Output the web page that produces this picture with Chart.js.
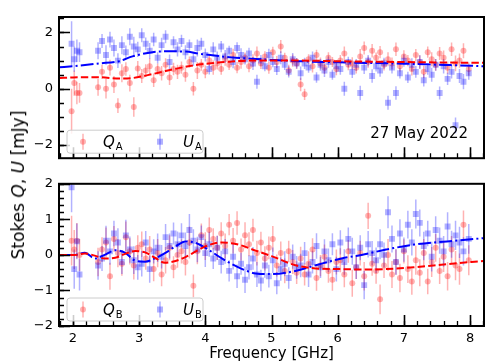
<!DOCTYPE html>
<html>
<head>
<meta charset="utf-8">
<script src="https://cdn.jsdelivr.net/npm/chart.js@4.4.0/dist/chart.umd.min.js"></script>
<style>
body { margin: 0; background: #fff; }
#wrap { position: relative; width: 498px; height: 363px; overflow: hidden; font-family: "DejaVu Sans"; }
#top { position: absolute; left: 0; top: 0; }
#bot { position: absolute; left: 0; top: 170px; }
#ylab { position: absolute; left: 18px; top: 185px; transform: translate(-50%, -50%) rotate(-90deg); white-space: nowrap; font-size: 17px; color: #000; }
</style>
</head>
<body>
<div id="wrap">
  <canvas id="top" width="498" height="172"></canvas>
  <canvas id="bot" width="498" height="193"></canvas>
  <div id="ylab">Stokes <i>Q</i>, <i>U</i> [mJy]</div>
</div>
<script>
// frequency channels [GHz]
var freq = [1.98, 2.02, 2.06, 2.10,
  2.38, 2.44, 2.50, 2.56, 2.62, 2.68, 2.74, 2.80, 2.86, 2.92, 2.98,
  3.04, 3.10, 3.16, 3.22, 3.28, 3.34, 3.40, 3.46, 3.52, 3.58,
  3.64, 3.70, 3.76, 3.82, 3.88, 3.94, 4.00, 4.06, 4.12, 4.18,
  4.24, 4.30, 4.36, 4.42, 4.48, 4.54, 4.60, 4.66, 4.72, 4.78,
  4.84, 4.90, 4.96, 5.02, 5.08, 5.14, 5.20, 5.26, 5.32, 5.38,
  5.44, 5.50, 5.56, 5.62, 5.68, 5.74, 5.80, 5.86, 5.92, 5.98,
  6.04, 6.10, 6.16, 6.22, 6.28, 6.34, 6.40, 6.46, 6.52, 6.58,
  6.64, 6.70, 6.76, 6.82, 6.88, 6.94, 7.00, 7.06, 7.12, 7.18,
  7.24, 7.30, 7.36, 7.42, 7.48, 7.54, 7.60, 7.66, 7.72, 7.78,
  7.84, 7.90, 7.98];

// panel A (27 May 2022)
var qA = [-0.80, 0.20, -0.15, -0.15,
  0.05, 0.60, 0.00, 0.75, 0.15, -0.60, 0.55, 0.70, 0.20, -0.65, 0.72,
  0.45, 0.65, 0.80, 0.30, 0.70, 0.55, 0.85, 0.40, 0.70, 0.60,
  0.75, 0.50, 0.95, 0.00, 0.65, 0.85, 0.60, 1.00, 0.75, 0.90,
  0.70, 1.05, 0.85, 1.20, 0.75, 0.95, 1.10, 0.80, 1.00, 1.25,
  0.90, 1.15, 0.75, 1.30, 0.95, 1.50, 1.10, 0.65, 1.00, 0.90,
  0.15, -0.20, 1.05, 0.80, 1.20, 0.90, 0.75, 1.10, 0.95, 0.70,
  1.00, 1.25, 0.85, 0.90, 0.75, 1.15, 1.45, 0.95, 1.35, 1.10,
  1.30, 0.85, 1.05, 0.90, 1.40, 0.80, 1.15, 1.00, 0.70, 1.20,
  0.95, 0.60, 1.30, 1.05, 0.85, 1.25, 1.10, 0.75, 1.40, 0.90,
  1.00, 1.35, 0.70];
var uA = [1.60, 1.05, 1.35, 1.30,
  1.35, 1.70, 1.20, 1.75, 1.45, 1.00, 1.55, 1.30, 1.85, 1.50, 1.40,
  1.90, 1.60, 1.35, 1.75, 1.10, 1.55, 1.85, 0.95, 1.65, 1.40,
  1.70, 1.30, 1.55, 1.05, 1.45, 1.60, 1.20, 0.70, 1.40, 1.10,
  1.50, 1.15, 1.35, 0.95, 1.45, 1.20, 1.05, 1.25, 0.90, 0.25,
  1.00, 0.80, 1.20, 0.95, 0.70, 1.10, 0.85, 0.60, 1.05, 0.90,
  0.55, 0.90, 0.75, 1.10, 0.40, 0.85, 0.65, 0.95, 0.50, 0.80,
  0.70, 0.00, 0.95, 0.60, 0.85, -0.15, 0.75, 1.00, 0.45, 0.80,
  0.65, 0.90, -0.50, 0.75, -0.15, 0.55, 1.00, 0.40, 0.85, 0.60,
  0.95, 0.30, 0.70, 0.50, 0.85, -0.15, 0.80, 0.35, 0.60, -1.30,
  0.45, 0.25, 0.55];
var errA = [0.80, 0.45, 0.40, 0.35,
  0.30, 0.25, 0.35, 0.28, 0.30, 0.26, 0.32, 0.24, 0.30, 0.35, 0.27,
  0.25, 0.22, 0.28, 0.24, 0.20, 0.26, 0.23, 0.27, 0.22, 0.25,
  0.22, 0.25, 0.20, 0.24, 0.30, 0.21, 0.23, 0.19, 0.25, 0.22,
  0.20, 0.23, 0.18, 0.22, 0.20, 0.24, 0.19, 0.21, 0.23, 0.25,
  0.20, 0.18, 0.22, 0.19, 0.21, 0.23, 0.18, 0.20, 0.22, 0.19,
  0.24, 0.20, 0.18, 0.22, 0.19, 0.21, 0.23, 0.20, 0.18, 0.22,
  0.20, 0.25, 0.19, 0.22, 0.21, 0.26, 0.23, 0.20, 0.24, 0.19,
  0.22, 0.20, 0.25, 0.21, 0.24, 0.19, 0.22, 0.20, 0.23, 0.21,
  0.24, 0.22, 0.20, 0.25, 0.21, 0.23, 0.26, 0.22, 0.24, 0.28,
  0.25, 0.27, 0.23];

// panel B
var qB = [0.40, 0.15, 0.40, 0.00,
  -0.20, 0.15, 0.35, -0.60, 0.45, 0.05, -0.25, 0.50, 0.10, -0.30, 0.20,
  0.30, -0.10, 0.15, -0.40, 0.05, -0.55, -0.15, 0.20, -0.35, 0.00,
  0.10, -0.20, 0.35, -0.87, 0.10, 0.55, 0.25, 0.70, 0.45, 0.20,
  0.60, 0.25, 0.85, 0.40, 0.90, 0.15, 0.55, 0.30, 0.70, 0.05,
  0.35, -0.10, 0.20, 0.45, -0.30, 0.05, -0.45, 0.10, -0.20, -0.50,
  -0.10, -0.55, -0.25, 0.15, -0.65, -0.30, -0.05, -0.45, -0.70, -0.20,
  -0.15, -0.55, 0.10, -0.80, -0.35, 0.05, -0.60, 1.10, -0.25, -0.45,
  -1.25, -0.30, 0.00, -0.55, -0.20, -0.65, 0.10, -0.40, -0.75, -0.15,
  -0.50, 0.05, -0.75, -0.20, 0.20, -0.45, -0.05, -0.60, 0.15, -0.30,
  -0.40, 0.85, -0.15];
var uB = [1.90, -0.40, 0.38, -0.55,
  -0.30, -0.10, 0.40, 0.10, 0.60, 0.35, -0.20, 0.55, 0.15, -0.15, -0.35,
  -0.25, 0.35, -0.40, 0.10, 0.20, -0.05, 0.50, 0.25, 0.60, 0.30,
  0.55, 0.25, 0.70, 0.40, 0.15, 0.50, 0.05, 0.30, -0.10, 0.20,
  -0.20, 0.10, -0.45, -0.05, -0.60, -0.25, -0.70, -0.35, -0.10, -0.55,
  -0.72, -0.30, -0.60, -0.15, -0.80, -0.40, -0.25, -0.65, -0.05, -0.35,
  -0.30, 0.05, -0.55, -0.20, 0.25, -0.35, 0.10, -0.15, 0.30, -0.40,
  0.35, -0.20, 0.45, 0.10, -0.35, 0.20, -0.85, 0.30, 0.05, -0.15,
  0.30, 0.00, 1.20, 0.45, -0.20, 0.60, 0.15, 0.85, 0.35, 1.15,
  0.90, 0.25, 0.60, -0.05, 0.70, 0.40, 0.10, 0.80, 0.30, 0.55,
  0.35, 0.10, 0.45];
var errB = [0.70, 0.55, 0.50, 0.45,
  0.40, 0.35, 0.42, 0.38, 0.36, 0.40, 0.34, 0.44, 0.37, 0.39, 0.35,
  0.36, 0.32, 0.38, 0.34, 0.40, 0.33, 0.37, 0.35, 0.31, 0.36,
  0.34, 0.38, 0.45, 0.32, 0.36, 0.33, 0.39, 0.35, 0.30, 0.34,
  0.32, 0.35, 0.30, 0.36, 0.33, 0.31, 0.37, 0.34, 0.32, 0.35,
  0.30, 0.34, 0.32, 0.36, 0.31, 0.33, 0.35, 0.30, 0.34, 0.32,
  0.33, 0.31, 0.35, 0.32, 0.36, 0.30, 0.34, 0.33, 0.31, 0.35,
  0.34, 0.36, 0.32, 0.38, 0.33, 0.35, 0.40, 0.37, 0.34, 0.36,
  0.42, 0.35, 0.45, 0.38, 0.36, 0.40, 0.34, 0.39, 0.37, 0.41,
  0.38, 0.40, 0.36, 0.42, 0.39, 0.37, 0.43, 0.40, 0.38, 0.41,
  0.44, 0.40, 0.42];

// model curves
var modelFreqA = [1.8, 2.0, 2.4, 2.7, 2.9, 3.2, 3.4, 3.7, 3.9, 4.2, 4.4, 4.7, 5.4, 6.2, 7.0, 7.7, 8.2];
var modelQA = [0.38, 0.40, 0.41, 0.36, 0.38, 0.52, 0.63, 0.78, 0.86, 0.93, 0.97, 1.00, 1.00, 0.97, 0.95, 0.93, 0.92];
var modelUA = [0.76, 0.80, 0.90, 0.98, 1.15, 1.30, 1.33, 1.32, 1.25, 1.16, 1.11, 1.07, 0.98, 0.93, 0.89, 0.84, 0.80];
var modelFreqB = [1.8, 2.03, 2.18, 2.33, 2.48, 2.64, 2.79, 2.94, 3.09, 3.24, 3.39, 3.55, 3.70, 3.85, 4.0,
  4.25, 4.5, 4.76, 5.01, 5.36, 5.67, 6.06, 6.36, 6.73, 7.15, 7.65, 8.2];
var modelQB = [0.0, 0.0, 0.04, -0.02, -0.10, -0.08, 0.03, 0.11, 0.07, -0.08, -0.22, -0.17, -0.06, 0.09, 0.24,
  0.35, 0.29, 0.12, -0.04, -0.29, -0.38, -0.40, -0.41, -0.40, -0.35, -0.26, -0.17];
var modelUB = [0.0, 0.0, 0.06, -0.10, 0.0, 0.13, 0.06, -0.16, -0.19, -0.10, 0.05, 0.24, 0.38, 0.34, 0.20,
  -0.10, -0.35, -0.52, -0.54, -0.45, -0.29, -0.10, 0.00, 0.15, 0.29, 0.38, 0.47];

var xTicks = [2, 3, 4, 5, 6, 7, 8];
var yTicksA = [-2, 0, 2];
var yTicksB = [-2, -1, 0, 1, 2];

var RED = 'rgba(255,0,0,0.3)';
var BLUE = 'rgba(0,0,255,0.3)';

Chart.defaults.font.family = '"DejaVu Sans"';
Chart.defaults.color = '#000';

function pts(xs, ys) {
  return xs.map(function (x, i) { return { x: x, y: ys[i] }; });
}

function panelData(q, u, err, mx, mq, mu) {
  return {
    datasets: [
      { data: pts(mx, mq), showLine: true, borderColor: '#ff0000', borderWidth: 2, borderDash: [7.4, 3.2],
        pointRadius: 0, cubicInterpolationMode: 'monotone', order: 0 },
      { data: pts(mx, mu), showLine: true, borderColor: '#0000ff', borderWidth: 2, borderDash: [12.8, 3.2, 2, 3.2],
        pointRadius: 0, cubicInterpolationMode: 'monotone', order: 0 },
      { data: pts(freq, u), errors: err, pointStyle: 'rect', pointRadius: 4.2, backgroundColor: BLUE,
        pointBorderWidth: 0, order: 1 },
      { data: pts(freq, q), errors: err, pointStyle: 'circle', pointRadius: 3, backgroundColor: RED,
        pointBorderWidth: 0, order: 2 }
    ]
  };
}

// vertical error bars under the markers
var errorBars = {
  id: 'errorBars',
  beforeDatasetsDraw: function (chart) {
    var ctx = chart.ctx, a = chart.chartArea, ys = chart.scales.y;
    ctx.save();
    ctx.beginPath();
    ctx.rect(a.left, a.top, a.right - a.left, a.bottom - a.top);
    ctx.clip();
    ctx.lineWidth = 1.5;
    for (var i = chart.data.datasets.length - 1; i >= 0; i--) {
      var ds = chart.data.datasets[i];
      if (!ds.errors) continue;
      var meta = chart.getDatasetMeta(i);
      ctx.strokeStyle = ds.backgroundColor;
      meta.data.forEach(function (pt, j) {
        var v = ds.data[j].y, e = ds.errors[j];
        ctx.beginPath();
        ctx.moveTo(pt.x, ys.getPixelForValue(v + e));
        ctx.lineTo(pt.x, ys.getPixelForValue(v - e));
        ctx.stroke();
      });
    }
    ctx.restore();
  }
};

// box frame plus inward major/minor ticks (matplotlib look)
var frame = {
  id: 'frame',
  afterDraw: function (chart, args, opts) {
    var ctx = chart.ctx, a = chart.chartArea, xs = chart.scales.x, ys = chart.scales.y;
    function minors(scale, step) {
      var out = [];
      for (var k = Math.ceil(scale.min / step - 1e-6); k * step <= scale.max + 1e-6; k++) out.push(k * step);
      return out;
    }
    ctx.save();
    ctx.strokeStyle = '#000';
    ctx.lineWidth = 1.3;
    ctx.beginPath();
    minors(xs, opts.xMinor).forEach(function (v) {
      var px = Math.round(xs.getPixelForValue(v)) + 0.5;
      ctx.moveTo(px, a.bottom); ctx.lineTo(px, a.bottom - 5);
    });
    minors(ys, opts.yMinor).forEach(function (v) {
      var py = Math.round(ys.getPixelForValue(v)) + 0.5;
      ctx.moveTo(a.left, py); ctx.lineTo(a.left + 5, py);
    });
    ctx.stroke();
    ctx.lineWidth = 1.6;
    ctx.beginPath();
    opts.xMajor.forEach(function (v) {
      var px = Math.round(xs.getPixelForValue(v)) + 0.5;
      ctx.moveTo(px, a.bottom); ctx.lineTo(px, a.bottom - 11);
    });
    opts.yMajor.forEach(function (v) {
      var py = Math.round(ys.getPixelForValue(v)) + 0.5;
      ctx.moveTo(a.left, py); ctx.lineTo(a.left + 11, py);
    });
    ctx.stroke();
    ctx.lineWidth = 2;
    ctx.strokeRect(a.left, a.top, a.right - a.left, a.bottom - a.top);
    ctx.restore();
  }
};

// legend box with error-bar markers, and the date label
var legendBox = {
  id: 'legendBox',
  afterDraw: function (chart, args, opts) {
    var ctx = chart.ctx, a = chart.chartArea;
    var bx = a.left + 8, by = a.bottom - 28, bw = 136, bh = 23, r = 3;
    ctx.save();
    ctx.beginPath();
    ctx.moveTo(bx + r, by);
    ctx.arcTo(bx + bw, by, bx + bw, by + bh, r);
    ctx.arcTo(bx + bw, by + bh, bx, by + bh, r);
    ctx.arcTo(bx, by + bh, bx, by, r);
    ctx.arcTo(bx, by, bx + bw, by, r);
    ctx.closePath();
    ctx.fillStyle = 'rgba(255,255,255,0.8)';
    ctx.fill();
    ctx.strokeStyle = '#cccccc';
    ctx.lineWidth = 1;
    ctx.stroke();

    var cy = by + bh / 2;
    function marker(x, color, square) {
      ctx.strokeStyle = color;
      ctx.lineWidth = 1.5;
      ctx.beginPath(); ctx.moveTo(x, cy - 8); ctx.lineTo(x, cy + 8); ctx.stroke();
      ctx.fillStyle = color;
      ctx.beginPath();
      if (square) ctx.rect(x - 3, cy - 3, 6, 6); else ctx.arc(x, cy, 3, 0, Math.PI * 2);
      ctx.fill();
    }
    function label(x, sym) {
      ctx.fillStyle = '#000';
      ctx.textAlign = 'left';
      ctx.textBaseline = 'alphabetic';
      ctx.font = 'italic 15px "DejaVu Sans"';
      ctx.fillText(sym, x, cy + 5);
      var w = ctx.measureText(sym).width;
      ctx.font = '10px "DejaVu Sans"';
      ctx.fillText(opts.sub, x + w + 1, cy + 8);
    }
    marker(bx + 16, RED, false);
    label(bx + 36, 'Q');
    marker(bx + 93, BLUE, true);
    label(bx + 116, 'U');

    if (opts.date) {
      ctx.fillStyle = '#000';
      ctx.font = '15px "DejaVu Sans"';
      ctx.textAlign = 'right';
      ctx.textBaseline = 'alphabetic';
      ctx.fillText(opts.date, a.right - 16, a.bottom - 20);
    }
    ctx.restore();
  }
};

function panelOptions(p) {
  return {
    responsive: false,
    animation: false,
    layout: { padding: { left: 0, right: 14, top: p.padTop, bottom: p.padBottom } },
    plugins: {
      legend: { display: false },
      tooltip: { enabled: false },
      frame: { xMinor: 0.2, yMinor: p.yMinor, xMajor: xTicks, yMajor: p.yTicks },
      legendBox: { sub: p.sub, date: p.date }
    },
    scales: {
      x: {
        type: 'linear', min: 1.79, max: 8.21, display: p.showX,
        afterBuildTicks: function (s) { s.ticks = xTicks.map(function (v) { return { value: v }; }); },
        afterFit: p.showX ? function (s) { s.height = 37; } : undefined,
        grid: { display: false, drawTicks: false },
        border: { display: false },
        ticks: { padding: 5, color: '#000', font: { size: 13 }, maxRotation: 0 },
        title: { display: p.showX, text: 'Frequency [GHz]', color: '#000', font: { size: 15 }, padding: { top: 0, bottom: 0 } }
      },
      y: {
        type: 'linear', min: p.yMin, max: p.yMax,
        afterBuildTicks: function (s) { s.ticks = p.yTicks.map(function (v) { return { value: v }; }); },
        afterFit: function (s) { s.width = 59; },
        grid: { display: false, drawTicks: false },
        border: { display: false },
        ticks: {
          padding: 6, color: '#000', font: { size: 13 },
          callback: function (v) { return String(v).replace('-', '\u2212'); }
        }
      }
    }
  };
}

new Chart(document.getElementById('top'), {
  type: 'scatter',
  data: panelData(qA, uA, errA, modelFreqA, modelQA, modelUA),
  options: panelOptions({ yMin: -2.47, yMax: 2.55, yTicks: yTicksA, yMinor: 0.5, showX: false,
    padTop: 17, padBottom: 9, sub: 'A', date: '27 May 2022' }),
  plugins: [errorBars, frame, legendBox]
});

new Chart(document.getElementById('bot'), {
  type: 'scatter',
  data: panelData(qB, uB, errB, modelFreqB, modelQB, modelUB),
  options: panelOptions({ yMin: -2, yMax: 2, yTicks: yTicksB, yMinor: 0.2, showX: true,
    padTop: 11, padBottom: 0, sub: 'B', date: null }),
  plugins: [errorBars, frame, legendBox]
});
</script>
</body>
</html>
